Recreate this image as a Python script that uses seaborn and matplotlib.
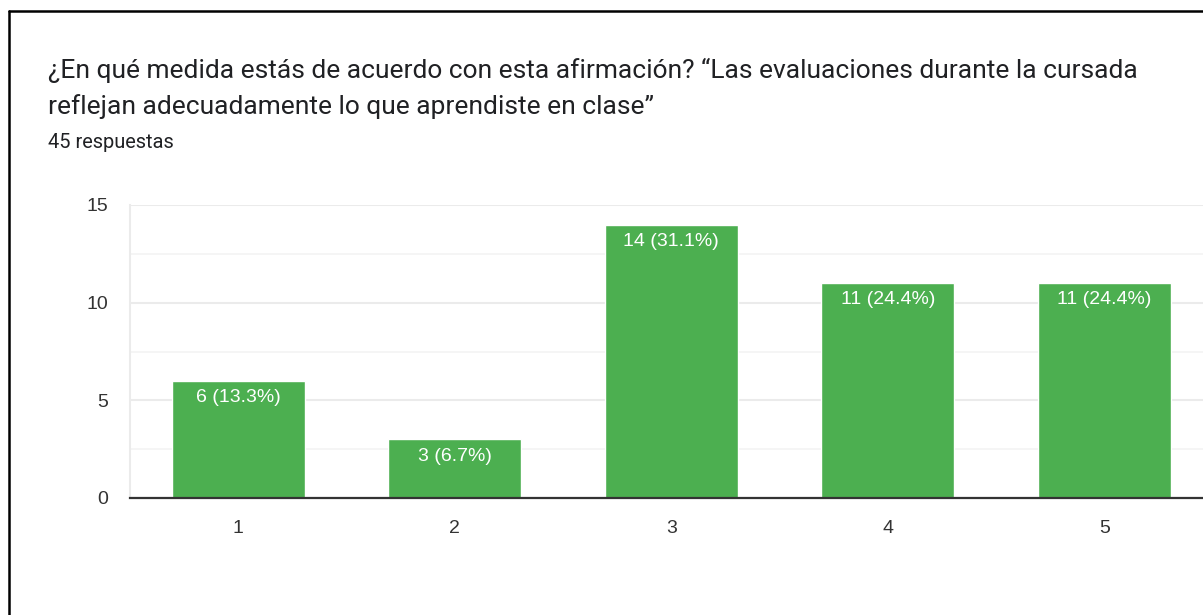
import pandas as pd
import seaborn as sns
import matplotlib.pyplot as plt
from matplotlib.lines import Line2D

categories = ["1", "2", "3", "4", "5"]
counts = [6, 3, 14, 11, 11]
labels = ["6 (13.3%)", "3 (6.7%)", "14 (31.1%)", "11 (24.4%)", "11 (24.4%)"]
yticks = [0, 5, 10, 15]

title_lines = ["¿En qué medida estás de acuerdo con esta afirmación? \u201cLas evaluaciones durante la cursada",
               "reflejan adecuadamente lo que aprendiste en clase\u201d"]
subtitle = "45 respuestas"

df = pd.DataFrame({"opcion": categories, "n": counts})

sns.set_style("white")
plt.rcParams['font.family'] = ['Liberation Sans', 'DejaVu Sans']

fig = plt.figure(figsize=(12.03, 6.15), dpi=100)
ax = fig.add_axes([130 / 1203, 117 / 615, 1082.5 / 1203, 293 / 615])

sns.barplot(data=df, x="opcion", y="n", color="#4caf50", saturation=1,
            width=0.614, ax=ax, zorder=3)

ax.set_xlim(-0.5, 4.5)
ax.set_ylim(0, 15)
ax.set_yticks(yticks)
ax.set_yticks([2.5, 7.5, 12.5], minor=True)
ax.grid(axis="y", which="major", color="#ebebeb", linewidth=1.5, zorder=0)
ax.grid(axis="y", which="minor", color="#f3f3f3", linewidth=1.2, zorder=0)
ax.set_axisbelow(True)
ax.tick_params(axis="both", length=0, labelsize=14, labelcolor="#333333")
ax.tick_params(axis="x", pad=15.5)
ax.tick_params(axis="y", pad=16)
ax.set_xlabel("")
ax.set_ylabel("")

for s in ["top", "right"]:
    ax.spines[s].set_visible(False)
ax.spines["left"].set_color("#ebebeb")
ax.spines["left"].set_linewidth(1.5)
ax.spines["bottom"].set_color("#333333")
ax.spines["bottom"].set_linewidth(1.6)
ax.spines["bottom"].set_zorder(5)

for i, (v, lab) in enumerate(zip(counts, labels)):
    ax.annotate(lab, xy=(i, v), xytext=(0, -6), textcoords="offset points",
                ha="center", va="top", color="white", fontsize=14, zorder=6)

fig.text(48 / 1203, 1 - 70 / 615, title_lines[0], fontsize=19, color="#202124",
         family=["Roboto", "DejaVu Sans"], va="center", ha="left")
fig.text(48 / 1203, 1 - 107 / 615, title_lines[1], fontsize=19, color="#202124",
         family=["Roboto", "DejaVu Sans"], va="center", ha="left")
fig.text(48 / 1203, 1 - 143 / 615, subtitle, fontsize=14.4, color="#202124",
         family=["Roboto", "DejaVu Sans"], va="center", ha="left")

# border of the card (top and left edges visible)
fig.add_artist(Line2D([9 / 1203, 1], [1 - 11 / 615, 1 - 11 / 615],
                      transform=fig.transFigure, color="black", linewidth=1.8))
fig.add_artist(Line2D([9 / 1203, 9 / 1203], [0, 1 - 11 / 615],
                      transform=fig.transFigure, color="black", linewidth=1.8))

fig.savefig("out.png", dpi=100)
